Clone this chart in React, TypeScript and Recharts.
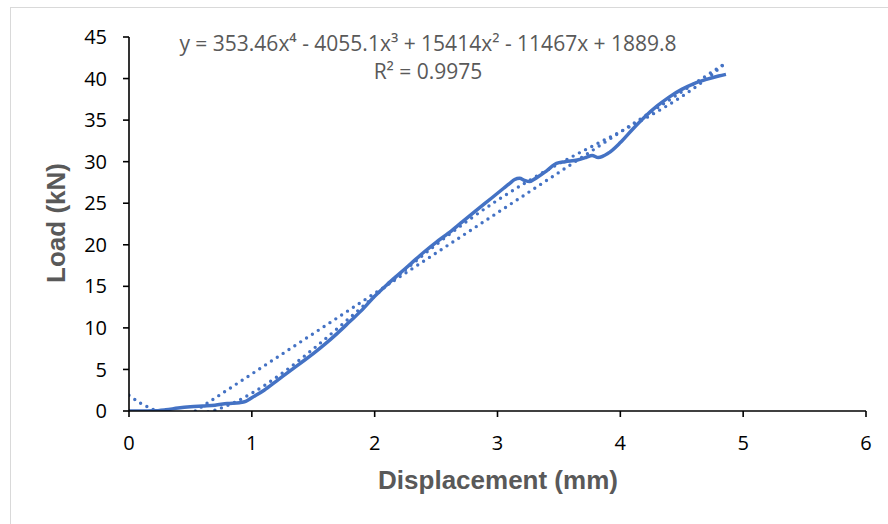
import React from "react";
import { LineChart, Line, XAxis, YAxis } from "recharts";

const xTicks = [0, 1, 2, 3, 4, 5, 6];
const yTicks = [0, 5, 10, 15, 20, 25, 30, 35, 40, 45];

const measuredX = [0, 0.1, 0.2, 0.3, 0.4, 0.5, 0.6, 0.7, 0.8, 0.9, 0.95, 1.0, 1.1, 1.2, 1.3, 1.4, 1.5, 1.6, 1.7, 1.8, 1.9, 2.0, 2.1, 2.2, 2.3, 2.4, 2.5, 2.6, 2.7, 2.8, 2.9, 3.0, 3.05, 3.1, 3.14, 3.18, 3.22, 3.26, 3.3, 3.4, 3.48, 3.55, 3.65, 3.72, 3.77, 3.82, 3.9, 4.0, 4.1, 4.2, 4.3, 4.4, 4.5, 4.6, 4.7, 4.8, 4.86];
const measuredLoad = [0, 0, 0.02, 0.15, 0.35, 0.5, 0.6, 0.7, 0.9, 1.0, 1.15, 1.6, 2.5, 3.6, 4.7, 5.8, 6.9, 8.1, 9.4, 10.8, 12.2, 13.8, 15.2, 16.5, 17.8, 19.1, 20.3, 21.4, 22.6, 23.8, 25.0, 26.2, 26.8, 27.4, 27.85, 28.0, 27.75, 27.6, 27.9, 28.9, 29.8, 30.0, 30.2, 30.5, 30.75, 30.5, 31.0, 32.3, 33.9, 35.4, 36.7, 37.8, 38.7, 39.4, 39.9, 40.3, 40.5];

const polyX = [0, 0.1, 0.2, 0.3, 0.4, 0.5, 0.6, 0.7, 0.85, 1.0, 1.25, 1.5, 1.75, 2.0, 2.25, 2.5, 2.75, 3.0, 3.25, 3.5, 3.75, 4.0, 4.25, 4.5, 4.75, 4.85];
const polyLoad = [1.89, 0.89, 0.18, -0.27, -0.48, -0.47, -0.27, 0.11, 0.97, 2.14, 4.58, 7.47, 10.61, 13.83, 16.99, 20.01, 22.81, 25.36, 27.66, 29.76, 31.7, 33.61, 35.6, 37.84, 40.54, 41.8];

const linearX = [0.54, 4.85];
const linearLoad = [0, 41.8];

const equationText = "y = 353.46x⁴ - 4055.1x³ + 15414x² - 11467x + 1889.8";
const r2Text = "R² = 0.9975";
const xTitle = "Displacement (mm)";
const yTitle = "Load (kN)";

const toRows = (xs: number[], ys: number[]) => xs.map((x, i) => ({ x, y: ys[i] }));

const BLUE = "#4472C4";

export default function App() {
  const measured = toRows(measuredX, measuredLoad);
  const poly = toRows(polyX, polyLoad);
  const linear = toRows(linearX, linearLoad);
  const tickStyle = { fontSize: 20, fill: "#000", fontFamily: "'Open Sans', sans-serif" };
  return (
    <div style={{ position: "absolute", left: 0, top: 0, width: 888, height: 524, background: "#fff", overflow: "hidden" }}>
      <div style={{ position: "absolute", left: 10, top: 7, width: 900, height: 600, borderTop: "1px solid #d9d9d9", borderLeft: "1px solid #d9d9d9" }} />
      <div style={{ position: "absolute", left: 0, top: 0 }}>
        <LineChart width={888} height={524} margin={{ top: 37, right: 22, bottom: 83, left: 69 }}>
          <XAxis
            type="number"
            dataKey="x"
            domain={[0, 6]}
            ticks={xTicks}
            allowDataOverflow
            height={30}
            stroke="#000"
            strokeWidth={1.6}
            tickSize={6}
            tickMargin={19}
            tick={tickStyle}
            tickLine={{ stroke: "#000", strokeWidth: 1.6 }}
          />
          <YAxis
            type="number"
            domain={[0, 45]}
            ticks={yTicks}
            allowDataOverflow
            width={60}
            stroke="#000"
            strokeWidth={1.6}
            tickSize={6}
            tickMargin={16}
            tick={tickStyle}
            tickLine={{ stroke: "#000", strokeWidth: 1.6 }}
          />
          <Line data={poly} dataKey="y" type="monotone" stroke={BLUE} strokeWidth={3.4} strokeDasharray="0 7" strokeLinecap="round" dot={false} isAnimationActive={false} />
          <Line data={linear} dataKey="y" type="linear" stroke={BLUE} strokeWidth={3.4} strokeDasharray="0 7" strokeLinecap="round" dot={false} isAnimationActive={false} />
          <Line data={measured} dataKey="y" type="monotone" stroke={BLUE} strokeWidth={3.5} strokeLinejoin="round" dot={false} isAnimationActive={false} />
        </LineChart>
      </div>
      <svg width={888} height={524} style={{ position: "absolute", left: 0, top: 0, pointerEvents: "none" }}>
        <text x={428} y={51} textAnchor="middle" fontSize={21} fill="#595959" fontFamily="'Open Sans', sans-serif">{equationText}</text>
        <text x={428} y={79} textAnchor="middle" fontSize={21} fill="#595959" fontFamily="'Open Sans', sans-serif">{r2Text}</text>
        <text x={498} y={489} textAnchor="middle" fontSize={26} fontWeight="bold" fill="#595959" fontFamily="'Liberation Sans', Arial, sans-serif">{xTitle}</text>
        <text transform="translate(65,223) rotate(-90)" textAnchor="middle" fontSize={26} fontWeight="bold" fill="#595959" fontFamily="'Liberation Sans', Arial, sans-serif">{yTitle}</text>
      </svg>
    </div>
  );
}
